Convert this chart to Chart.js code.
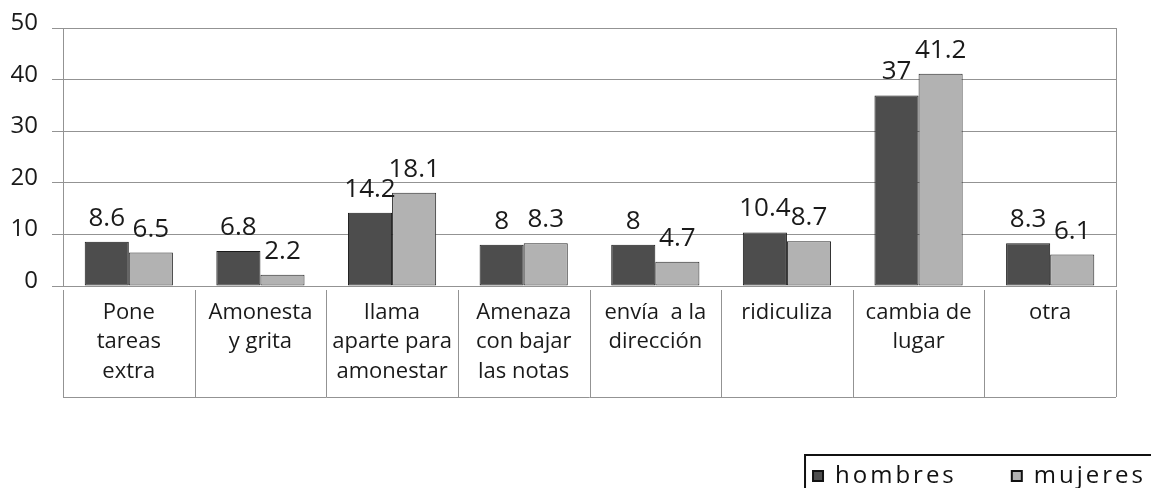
<!DOCTYPE html>
<html>
<head>
<meta charset="utf-8">
<script src="https://cdn.jsdelivr.net/npm/chart.js@4"></script>
<style>
  html, body { margin: 0; padding: 0; background: #fff; }
  #wrap { width: 1151px; height: 488px; }
</style>
</head>
<body>
<div id="wrap"><canvas id="grafico"></canvas></div>
<script>
// categorias (en varias lineas como en el original)
const categorias = [
  ["Pone", "tareas", "extra"],
  ["Amonesta", "y grita"],
  ["llama", "aparte para", "amonestar"],
  ["Amenaza", "con bajar", "las notas"],
  ["envía  a la", "dirección"],
  ["ridiculiza"],
  ["cambia de", "lugar"],
  ["otra"]
];
const hombres = [8.6, 6.8, 14.2, 8, 8, 10.4, 37, 8.3];
const mujeres = [6.5, 2.2, 18.1, 8.3, 4.7, 8.7, 41.2, 6.1];
const ticksY = [0, 10, 20, 30, 40, 50];

const fuente = "'Open Sans', 'Noto Sans', sans-serif";
const gris = "#939393";

// ----- etiquetas de valor encima de cada barra -----
const etiquetas = {
  id: "etiquetas",
  afterDatasetsDraw(chart) {
    const ctx = chart.ctx;
    ctx.save();
    ctx.font = "26px " + fuente;
    ctx.fillStyle = "#1a1a1a";
    ctx.textAlign = "center";
    ctx.textBaseline = "alphabetic";
    chart.data.datasets.forEach((ds, i) => {
      chart.getDatasetMeta(i).data.forEach((bar, j) => {
        ctx.fillText(String(ds.data[j]), bar.x, bar.y - 16);
      });
    });
    ctx.restore();
  }
};

// ----- tabla de categorias bajo el eje y marco de la leyenda -----
const marcos = {
  id: "marcos",
  afterInit(chart) {
    // espaciado entre letras en la leyenda
    const lg = chart.legend;
    ["fit", "draw"].forEach(fn => {
      const orig = lg[fn].bind(lg);
      lg[fn] = function (...a) {
        const c = chart.ctx;
        c.save();
        c.letterSpacing = "3px";
        const r = orig(...a);
        c.restore();
        return r;
      };
    });
  },
  afterDraw(chart) {
    const ctx = chart.ctx;
    const x = chart.scales.x;
    const y0 = x.top + 4;
    const y1 = x.top + 111;
    ctx.save();
    ctx.strokeStyle = gris;
    ctx.lineWidth = 1;
    ctx.beginPath();
    for (let i = 0; i <= categorias.length; i++) {
      const px = Math.round(x.getPixelForValue(i - 0.5)) + 0.5;
      ctx.moveTo(px, y0);
      ctx.lineTo(px, y1);
    }
    ctx.moveTo(x.left, y1 + 0.5);
    ctx.lineTo(x.right, y1 + 0.5);
    ctx.stroke();

    const hb = chart.legend.legendHitBoxes[0];
    if (hb) {
      const cy = hb.top + hb.height / 2;
      ctx.strokeStyle = "#111";
      ctx.lineWidth = 2;
      ctx.strokeRect(hb.left - 8, cy - 21, chart.width, 60);
    }
    ctx.restore();
  }
};

new Chart(document.getElementById("grafico"), {
  type: "bar",
  data: {
    labels: categorias,
    datasets: [
      {
        label: "hombres",
        data: hombres,
        backgroundColor: "#4d4d4d",
        borderColor: "#1a1a1a",
        borderWidth: 1,
        borderSkipped: false
      },
      {
        label: "mujeres",
        data: mujeres,
        backgroundColor: "#b2b2b2",
        borderColor: "#2a2a2a",
        borderWidth: 1,
        borderSkipped: false
      }
    ]
  },
  options: {
    responsive: true,
    maintainAspectRatio: false,
    animation: false,
    layout: { padding: { left: 0, right: -50, top: 16, bottom: -10 } },
    datasets: { bar: { categoryPercentage: 0.67, barPercentage: 1.0 } },
    scales: {
      x: {
        offset: true,
        grid: { display: false, drawTicks: false },
        border: { display: true, color: gris },
        afterFit: axis => { axis.height = 123; },
        ticks: {
          padding: 12,
          color: "#1a1a1a",
          maxRotation: 0,
          autoSkip: false,
          font: { family: fuente, size: 22, lineHeight: 1.34 }
        }
      },
      y: {
        min: 0,
        max: 50,
        afterBuildTicks: axis => { axis.ticks = ticksY.map(v => ({ value: v })); },
        afterFit: axis => { axis.width = 63; },
        grid: { color: gris, tickLength: 11 },
        border: { display: true, color: gris },
        ticks: {
          padding: 14,
          labelOffset: -5,
          color: "#1a1a1a",
          font: { family: fuente, size: 24 }
        }
      },
      y2: {
        position: "right",
        min: 0,
        max: 50,
        grid: { drawOnChartArea: false, drawTicks: false },
        border: { display: true, color: gris },
        ticks: { display: false },
        afterFit: axis => { axis.width = 85; }
      }
    },
    plugins: {
      title: { display: false },
      tooltip: { enabled: false },
      legend: {
        position: "bottom",
        align: "end",
        labels: {
          boxWidth: 10,
          boxHeight: 10,
          padding: 55,
          color: "#111",
          font: { family: fuente, size: 24 },
          generateLabels: chart =>
            Chart.defaults.plugins.legend.labels.generateLabels(chart)
              .map(l => ({ ...l, lineWidth: 2, strokeStyle: "#111" }))
        }
      }
    }
  },
  plugins: [etiquetas, marcos]
});
</script>
</body>
</html>
